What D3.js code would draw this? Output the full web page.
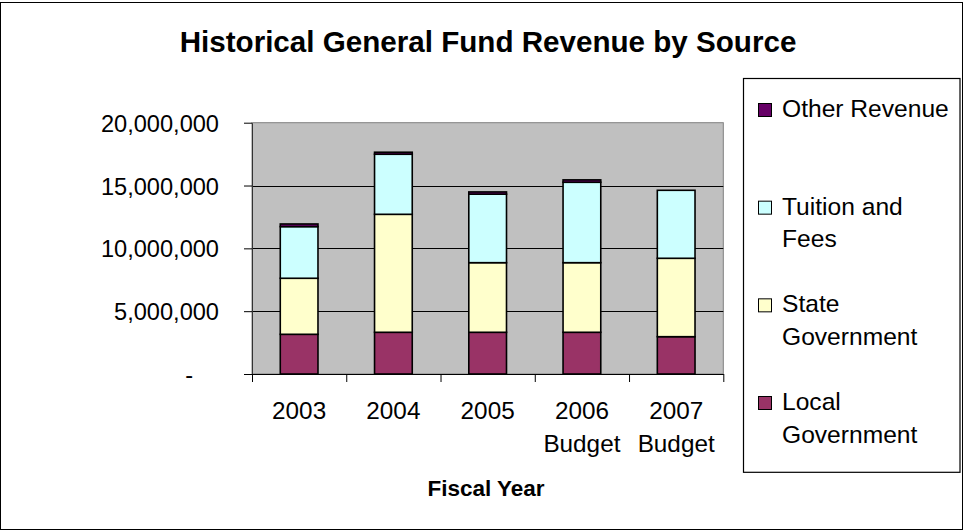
<!DOCTYPE html>
<html>
<head>
<meta charset="utf-8">
<script src="https://cdn.jsdelivr.net/npm/d3@7"></script>
<style>
  body { margin: 0; background: #fff; }
  svg { display: block; }
  text { font-family: "Liberation Sans", Arial, sans-serif; fill: #000; }
</style>
</head>
<body>
<svg id="chart" width="964" height="531"></svg>
<script>
// Fiscal years (second word goes on a second line)
const categories = ["2003", "2004", "2005", "2006 Budget", "2007 Budget"];

// Revenue by source, dollars
const localGovernment = [3160000, 3320000, 3320000, 3320000, 2970000];
const stateGovernment = [4460000, 9390000, 5540000, 5540000, 6240000];
const tuitionAndFees  = [4110000, 4780000, 5450000, 6400000, 5410000];
const otherRevenue    = [210000, 160000, 180000, 190000, 0];

const seriesNames  = ["Local Government", "State Government", "Tuition and Fees", "Other Revenue"];
const seriesColors = ["#993366", "#FFFFCC", "#CCFFFF", "#660066"];

// Legend reads top-down from the top of the stack
const legendOrder = [3, 2, 1, 0];
const legendLines = [["Local", "Government"], ["State", "Government"], ["Tuition and", "Fees"], ["Other Revenue"]];

const yTickValues = [0, 5000000, 10000000, 15000000, 20000000];
const yTickLabels = ["-", "5,000,000", "10,000,000", "15,000,000", "20,000,000"];

const svg = d3.select("#chart");
const W = 964, H = 531;
const plot = { left: 252, right: 723.3, top: 122.7, bottom: 374 };

// Outer frame
svg.append("rect")
  .attr("x", 0.5).attr("y", 2.5).attr("width", W - 2).attr("height", H - 4)
  .attr("fill", "#fff").attr("stroke", "#000").attr("stroke-width", 1);

// Title
svg.append("text")
  .attr("x", 488).attr("y", 52)
  .attr("text-anchor", "middle")
  .style("font-weight", "bold").style("font-size", "29.6px")
  .text("Historical General Fund Revenue by Source");

// Scales
const x = d3.scaleBand()
  .domain(categories)
  .range([plot.left, plot.right])
  .paddingInner(0.6).paddingOuter(0.3);

const xEdge = d3.scaleLinear().domain([0, categories.length]).range([plot.left, plot.right]);

const y = d3.scaleLinear().domain([0, 20000000]).range([plot.bottom, plot.top]);

// Plot area
svg.append("rect")
  .attr("x", plot.left).attr("y", plot.top)
  .attr("width", plot.right - plot.left).attr("height", plot.bottom - plot.top)
  .attr("fill", "#C0C0C0").attr("stroke", "#808080").attr("stroke-width", 1);

// Gridlines
svg.append("g")
  .selectAll("line")
  .data(yTickValues.filter(v => v > 0 && v < 20000000))
  .join("line")
  .attr("x1", plot.left).attr("x2", plot.right)
  .attr("y1", d => Math.round(y(d)) + 0.5).attr("y2", d => Math.round(y(d)) + 0.5)
  .attr("stroke", "#000").attr("stroke-width", 1);

// Stacked bars
const rows = categories.map((c, i) => ({
  category: c,
  s0: localGovernment[i], s1: stateGovernment[i], s2: tuitionAndFees[i], s3: otherRevenue[i]
}));
const stack = d3.stack().keys(["s0", "s1", "s2", "s3"]);
const layers = stack(rows);

svg.append("g")
  .selectAll("g")
  .data(layers)
  .join("g")
  .attr("fill", (d, i) => seriesColors[i])
  .selectAll("rect")
  .data(d => d)
  .join("rect")
  .attr("x", d => x(d.data.category))
  .attr("width", x.bandwidth())
  .attr("y", d => y(d[1]))
  .attr("height", d => y(d[0]) - y(d[1]))
  .attr("stroke", "#000").attr("stroke-width", 1.6);

// Y axis
const yAxis = svg.append("g")
  .attr("transform", `translate(${plot.left},0)`)
  .call(d3.axisLeft(y)
    .tickValues(yTickValues)
    .tickFormat((d, i) => yTickLabels[i])
    .tickSize(8).tickSizeOuter(0).tickPadding(25));
yAxis.select(".domain").attr("stroke", "#333");
yAxis.selectAll(".tick line").attr("stroke", "#000");
yAxis.selectAll(".tick text")
  .style("font-size", "23.6px").attr("font-family", null)
  .attr("dy", "0.36em");
yAxis.selectAll(".tick text").filter(d => d === 0).attr("dx", -26);

// X axis: ticks at category boundaries
const xAxis = svg.append("g")
  .attr("transform", `translate(0,${plot.bottom})`)
  .call(d3.axisBottom(xEdge).ticks(categories.length).tickFormat("").tickSize(8).tickSizeOuter(0));
xAxis.select(".domain").attr("stroke", "#000");
xAxis.selectAll(".tick line").attr("stroke", "#000");

// Category labels
const catLabels = svg.append("g")
  .selectAll("g")
  .data(categories)
  .join("g");
catLabels.each(function (c) {
  const lines = c.split(" ");
  d3.select(this).selectAll("text")
    .data(lines)
    .join("text")
    .attr("x", x(c) + x.bandwidth() / 2)
    .attr("y", (d, i) => 418.5 + i * 33.2)
    .attr("text-anchor", "middle")
    .style("font-size", "24.3px")
    .text(d => d);
});

// X axis title
svg.append("text")
  .attr("x", 486).attr("y", 495.5)
  .attr("text-anchor", "middle")
  .style("font-weight", "bold").style("font-size", "22.5px")
  .text("Fiscal Year");

// Legend
const legend = svg.append("g");
legend.append("rect")
  .attr("x", 743.5).attr("y", 78.5).attr("width", 216.5).attr("height", 393.8)
  .attr("fill", "#fff").attr("stroke", "#000").attr("stroke-width", 1.2);

const legendY = d3.scaleLinear().domain([0, 3]).range([117, 410]);
legendOrder.forEach((s, i) => {
  const base = legendY(i);
  legend.append("rect")
    .attr("x", 758.5).attr("y", base - 13.5)
    .attr("width", 13).attr("height", 13)
    .attr("fill", seriesColors[s]).attr("stroke", "#000").attr("stroke-width", 1);
  legend.selectAll(null)
    .data(legendLines[s])
    .join("text")
    .attr("x", 782)
    .attr("y", (d, j) => base + j * 32.5)
    .style("font-size", "24.6px")
    .text(d => d);
});
</script>
</body>
</html>
